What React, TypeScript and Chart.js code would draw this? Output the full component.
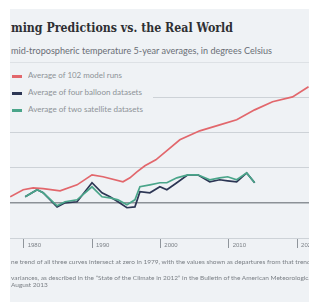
import React, { useEffect, useLayoutEffect, useRef } from 'react';
import { Chart, registerables } from 'chart.js';

Chart.register(...registerables);

// ---- data ----
const modelYears = [1978.03, 1979.93, 1981.39, 1982.85, 1985.33, 1987.81, 1990.0, 1991.61, 1994.53, 1995.55, 1996.57, 1997.74, 1999.34, 2001.09, 2002.85, 2005.77, 2008.69, 2011.17, 2013.8, 2016.42, 2019.34, 2021.68];
const modelRuns = [0.034, 0.074, 0.085, 0.08, 0.068, 0.102, 0.159, 0.148, 0.119, 0.142, 0.176, 0.21, 0.244, 0.301, 0.358, 0.409, 0.443, 0.472, 0.528, 0.574, 0.602, 0.659];
const obsYears = [1980.22, 1981.97, 1982.85, 1984.89, 1986.06, 1987.81, 1990.0, 1991.46, 1992.63, 1993.8, 1995.11, 1996.28, 1997.01, 1998.47, 1999.93, 2000.95, 2002.41, 2004.01, 2005.47, 2007.23, 2008.69, 2009.85, 2011.17, 2012.63, 2013.8];
const balloonAvg = [0.034, 0.074, 0.057, -0.023, 0.0, 0.006, 0.114, 0.057, 0.034, 0.006, -0.028, -0.023, 0.063, 0.057, 0.091, 0.074, 0.114, 0.159, 0.159, 0.119, 0.131, 0.125, 0.119, 0.17, 0.114];
const satelliteAvg = [0.034, 0.074, 0.057, -0.017, 0.006, 0.017, 0.091, 0.034, 0.028, 0.017, -0.011, 0.017, 0.091, 0.102, 0.114, 0.114, 0.142, 0.159, 0.159, 0.131, 0.142, 0.148, 0.131, 0.17, 0.114];
const seriesNames = ['Average of 102 model runs', 'Average of four balloon datasets', 'Average of two satellite datasets'];
const xTickValues = [1980, 1990, 2000, 2010, 2020];
const xTickLabels = ['1980', '1990', '2000', '2010', '2020'];
const yTickValues = [-0.2, 0, 0.2, 0.4, 0.6, 0.8];

const BG = '#eff2f5';
const RED = '#e2676c';
const NAVY = '#2c3654';
const GREEN = '#4aa58a';
const seriesColors = [RED, NAVY, GREEN];

function FitText({ text, width, style }: { text: string; width: number; style: React.CSSProperties }) {
  const ref = useRef<HTMLSpanElement>(null);
  useLayoutEffect(() => {
    const el = ref.current;
    if (!el) return;
    el.style.transform = 'none';
    const w = el.getBoundingClientRect().width;
    if (w > 0) el.style.transform = `scaleX(${width / w})`;
  }, [text, width]);
  return (
    <span
      ref={ref}
      style={{ position: 'absolute', display: 'inline-block', whiteSpace: 'nowrap', transformOrigin: '0 0', lineHeight: 1, ...style }}
    >
      {text}
    </span>
  );
}

const tickLabelPlugin = {
  id: 'tickLabels',
  afterDraw(chart: any) {
    const s = chart.scales.x;
    const ctx = chart.ctx;
    ctx.save();
    ctx.font = '6px "Liberation Sans", Arial, sans-serif';
    ctx.fillStyle = '#7d8288';
    ctx.textBaseline = 'middle';
    ctx.textAlign = 'left';
    xTickValues.forEach((v, i) => {
      const px = s.getPixelForValue(v);
      ctx.fillText(xTickLabels[i], px + 4, s.top + 7.5);
    });
    ctx.restore();
  },
};

export default function App() {
  const canvasRef = useRef<HTMLCanvasElement>(null);

  useEffect(() => {
    const canvas = canvasRef.current;
    if (!canvas) return;
    const chart = new Chart(canvas, {
      type: 'line',
      data: {
        datasets: [
          {
            label: seriesNames[0],
            data: modelYears.map((x, i) => ({ x, y: modelRuns[i] })),
            borderColor: RED,
            borderWidth: 1.7,
            pointRadius: 0,
            tension: 0,
          },
          {
            label: seriesNames[2],
            data: obsYears.map((x, i) => ({ x, y: satelliteAvg[i] })),
            borderColor: GREEN,
            borderWidth: 1.7,
            pointRadius: 0,
            tension: 0,
          },
          {
            label: seriesNames[1],
            data: obsYears.map((x, i) => ({ x, y: balloonAvg[i] })),
            borderColor: NAVY,
            borderWidth: 1.7,
            pointRadius: 0,
            tension: 0,
          },
        ],
      },
      options: {
        responsive: false,
        animation: false,
        events: [],
        layout: { padding: { top: 12, left: 0, right: 0, bottom: 0 } },
        plugins: { legend: { display: false }, tooltip: { enabled: false }, title: { display: false } },
        scales: {
          x: {
            type: 'linear',
            min: 1978.0,
            max: 2021.75,
            afterBuildTicks: (s: any) => {
              s.ticks = xTickValues.map((v) => ({ value: v }));
            },
            afterFit: (s: any) => {
              s.height = 22;
            },
            ticks: { display: false },
            grid: { drawOnChartArea: false, drawTicks: true, tickLength: 10, color: '#8f959b', lineWidth: 1 },
            border: { display: false },
          },
          y: {
            type: 'linear',
            min: -0.2,
            max: 0.8,
            afterBuildTicks: (s: any) => {
              s.ticks = yTickValues.map((v) => ({ value: v }));
            },
            afterFit: (s: any) => {
              s.width = 0;
            },
            ticks: { display: false },
            grid: {
              drawTicks: false,
              color: (c: any) => {
                const v = c.tick ? c.tick.value : 1;
                if (Math.abs(v) < 1e-6) return '#8c9197';
                if (v > 0.7) return '#dde1e5';
                return '#cdd2d7';
              },
              lineWidth: (c: any) => (c.tick && Math.abs(c.tick.value) < 1e-6 ? 1.5 : 1),
            },
            border: { display: false },
          },
        },
      },
      plugins: [tickLabelPlugin],
    } as any);
    return () => chart.destroy();
  }, []);

  const legendY = [76, 93, 110];
  const legendW = [94, 114, 115];

  return (
    <div
      style={{
        position: 'absolute',
        left: 10,
        top: 9,
        width: 299,
        height: 293,
        background: BG,
        overflow: 'hidden',
      }}
    >
      <FitText
        text="ming Predictions vs. the Real World"
        width={222}
        style={{ left: 1, top: 12, fontFamily: '"DejaVu Serif", serif', fontWeight: 700, fontSize: 13, color: '#2e2f33' }}
      />
      <FitText
        text="mid-tropospheric temperature 5-year averages, in degrees Celsius"
        width={261}
        style={{ left: 1, top: 38, fontFamily: 'Lato, "Open Sans", sans-serif', fontSize: 8.5, color: '#6a6e75' }}
      />
      <canvas
        ref={canvasRef}
        width={299}
        height={210}
        style={{ position: 'absolute', left: 0, top: 41, width: 299, height: 210 }}
      />
      <div style={{ position: 'absolute', left: 0, top: 57, width: 143, height: 58, background: BG }}>
        {seriesNames.map((name, i) => (
          <React.Fragment key={name}>
            <div
              style={{
                position: 'absolute',
                left: 2,
                top: legendY[i] - 66 - 1.5,
                width: 10,
                height: 3,
                background: seriesColors[i],
              }}
            />
            <FitText
              text={name}
              width={legendW[i]}
              style={{ left: 18, top: legendY[i] - 66 - 4, fontFamily: 'Lato, "Open Sans", sans-serif', fontSize: 7.5, color: '#8e9298' }}
            />
          </React.Fragment>
        ))}
      </div>
      <div
        style={{
          position: 'absolute',
          left: 1,
          top: 249,
          whiteSpace: 'nowrap',
          fontFamily: 'Lato, "Open Sans", sans-serif',
          fontSize: 6.5,
          lineHeight: '7px',
          color: '#7a7f85',
        }}
      >
        ne trend of all three curves intersect at zero in 1979, with the values shown as departures from that trend line.
      </div>
      <div
        style={{
          position: 'absolute',
          left: 1,
          top: 265,
          whiteSpace: 'nowrap',
          fontFamily: 'Lato, "Open Sans", sans-serif',
          fontSize: 6.5,
          lineHeight: '7px',
          color: '#7a7f85',
        }}
      >
        variances, as described in the “State of the Climate in 2012” in the Bulletin of the American Meteorological Society,
        <br />
        August 2013
      </div>
    </div>
  );
}
